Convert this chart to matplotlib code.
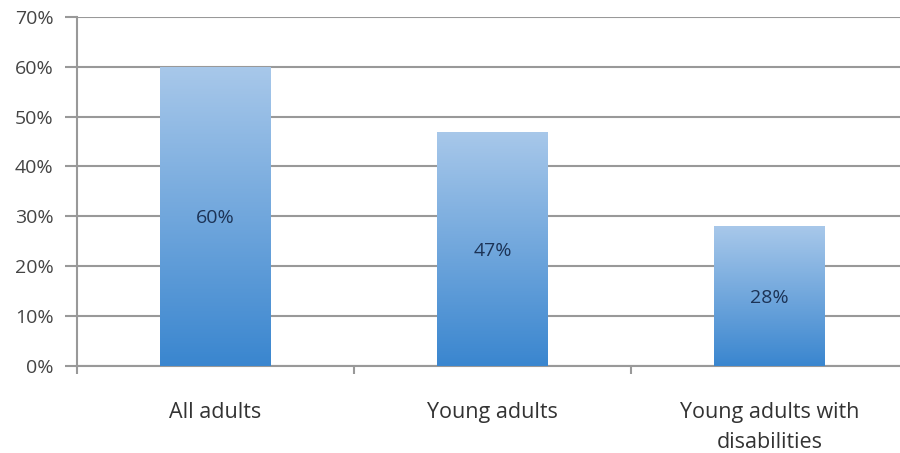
import matplotlib
matplotlib.use("Agg")
import matplotlib.pyplot as plt
import numpy as np
from matplotlib.colors import LinearSegmentedColormap
from matplotlib.ticker import FuncFormatter

categories = ["All adults", "Young adults", "Young adults with\ndisabilities"]
values = [0.60, 0.47, 0.28]
value_labels = ["60%", "47%", "28%"]

plt.rcParams['font.family'] = ['Open Sans', 'DejaVu Sans']

fig = plt.figure(figsize=(9, 4.53), dpi=100)
# right side of the plot runs off the picture, as in the original
ax = fig.add_axes([0.0856, 0.192, 0.923, 0.771])

x = np.arange(len(categories))
width = 0.40
bars = ax.bar(x, values, width=width, color='none', zorder=3)

# vertical gradient fill, light at top, darker at bottom
cmap = LinearSegmentedColormap.from_list("grad", ["#3a86cf", "#a8c8ea"])
grad = np.linspace(0, 1, 256).reshape(-1, 1)
for b in bars:
    x0, y0 = b.get_x(), b.get_y()
    w, h = b.get_width(), b.get_height()
    im = ax.imshow(grad, cmap=cmap, origin='lower', aspect='auto',
                   extent=[x0, x0 + w, y0, y0 + h], zorder=3)
    im.set_clip_path(b)

for xi, v, lab in zip(x, values, value_labels):
    ax.text(xi, v / 2, lab, ha='center', va='center_baseline', fontsize=14,
            color='#1c3356', zorder=4)

ax.set_xlim(-0.5, len(categories) - 0.5)
ax.set_ylim(0, 0.70)
ax.set_yticks(np.arange(0, 0.71, 0.10))
ax.yaxis.set_major_formatter(FuncFormatter(lambda v, p: f"{v * 100:.0f}%"))
ax.grid(axis='y', color='#999999', linewidth=1.5, zorder=0)

ax.set_xticks(x)
ax.set_xticklabels(categories, linespacing=1.55)
ax.set_xticks(np.arange(-0.5, len(categories) - 0.9, 1.0), minor=True)
ax.tick_params(axis='x', which='major', length=0, pad=26, labelsize=15.5, labelcolor='#333333')
ax.tick_params(axis='x', which='minor', length=6, color='#999999', width=1.5)
ax.tick_params(axis='y', length=9, color='#999999', width=1.5, labelsize=14,
               labelcolor='#444444', pad=8)

for s in ['top', 'right']:
    ax.spines[s].set_visible(False)
ax.spines['left'].set_color('#999999')
ax.spines['bottom'].set_color('#999999')
ax.spines['left'].set_linewidth(1.5)
ax.spines['bottom'].set_linewidth(1.5)

fig.savefig("out.png", dpi=100)
